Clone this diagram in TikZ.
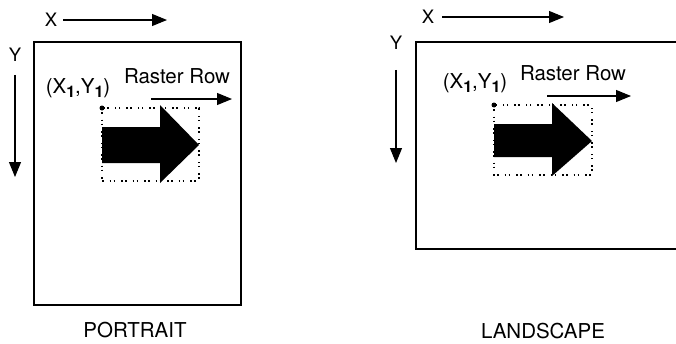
\documentclass[tikz,border=0pt]{standalone}
\usepackage{fontspec}
\setmainfont{TeX Gyre Heros}
\usetikzlibrary{arrows.meta}

\tikzset{
  axis/.style={line width=1.1pt,-{Triangle[length=15pt,width=12pt]}},
  sheet/.style={line width=1.2pt},
  window/.style={line width=1.5pt,dash pattern=on 1.5pt off 2.5pt on 1.5pt off 6pt},
  lbl/.style={inner sep=0pt,font=\fontsize{20.5}{24}\selectfont},
  axlbl/.style={inner sep=0pt,font=\fontsize{18.5}{22}\selectfont},
}
\newcommand{\subone}{\raisebox{-0.35ex}{\fontsize{16}{16}\selectfont\bfseries 1}}
\newcommand{\origin}{(X\subone,Y\subone)}

\begin{document}
\begin{tikzpicture}[x=1pt,y=-1pt]
\useasboundingbox (0,0) rectangle (676,343);
% portrait
\node[axlbl] (px) at (51,20) {X};
\coordinate (pxend) at (167,20);
\draw[axis,shorten <=6pt] (px) -- (pxend);
\node[axlbl] (py) at (15,55) {Y};
\coordinate (pyend) at (15,177);
\draw[axis,shorten <=13pt] (py) -- (pyend);
\path[draw,sheet] (34,42) rectangle (241,305);
\node[lbl] (porig) at (78,88) {\origin};
\node[lbl] (prow) at (177,76) {Raster Row};
\coordinate (prs) at (151,99);
\coordinate (pre) at (232,99);
\draw[axis] (prs) -- (pre);
\path[draw,window] (102,108) rectangle (199,181);
\path[fill]%
(102,127)--(160,127)--(160,105)--(199,145)--(160,183)--(160,163)--(102,163)--cycle;
\fill (102,108) circle (2.5pt);
\node[lbl] (ptitle) at (135,330) {PORTRAIT};
% landscape
\node[axlbl] (lx) at (428,17) {X};
\coordinate (lxend) at (564,17);
\draw[axis,shorten <=8pt] (lx) -- (lxend);
\node[axlbl] (ly) at (396,43) {Y};
\coordinate (lyend) at (396,163);
\draw[axis,shorten <=20pt] (ly) -- (lyend);
\path[draw,sheet] (677,42)--(416,42)--(416,249)--(677,249);
\node[lbl] (lorig) at (475,83) {\origin};
\node[lbl] (lrow) at (573,73) {Raster Row};
\coordinate (lrs) at (547,96);
\coordinate (lre) at (631,96);
\draw[axis] (lrs) -- (lre);
\path[draw,window] (494,105) rectangle (592,175);
\path[fill]%
(494,124)--(552,124)--(552,103)--(592,141)--(552,176)--(552,157)--(494,157)--cycle;
\fill (494,105) circle (2.5pt);
\node[lbl] (ltitle) at (543,331) {LANDSCAPE};
\end{tikzpicture}
\end{document}
